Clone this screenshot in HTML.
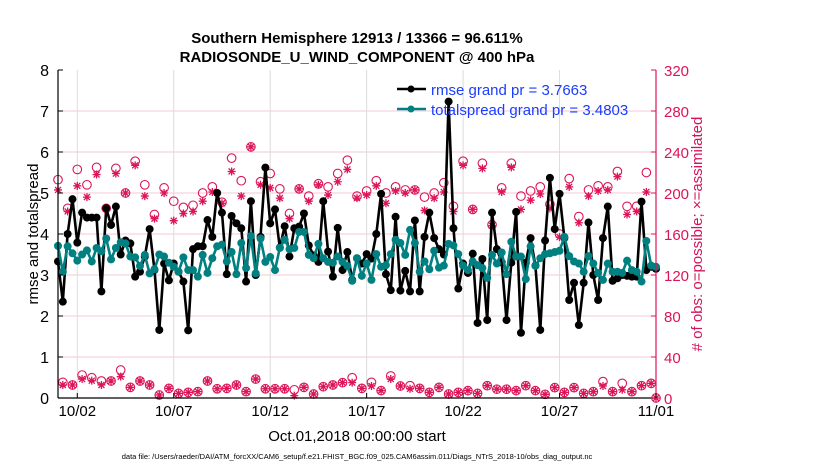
<!DOCTYPE html>
<html><head><meta charset="utf-8">
<style>
html,body{margin:0;padding:0;background:#fff;}
svg{display:block;font-family:"Liberation Sans",Arial,sans-serif;}
</style></head>
<body>
<svg id="chart" width="830" height="470" viewBox="0 0 830 470" xmlns="http://www.w3.org/2000/svg">
<rect width="830" height="470" fill="#fff"/>
<text x="357" y="43" text-anchor="middle" font-size="15" font-weight="bold">Southern Hemisphere 12913 / 13366 = 96.611%</text>
<text x="357" y="62" text-anchor="middle" font-size="15" font-weight="bold">RADIOSONDE_U_WIND_COMPONENT @ 400 hPa</text>
<g id="grid"></g>
<g id="marks"></g>
<g id="axes"></g>
<text transform="translate(38,234) rotate(-90)" text-anchor="middle" font-size="15">rmse and totalspread</text>
<text transform="translate(702,234) rotate(-90)" text-anchor="middle" font-size="15" fill="#d4145a"># of obs: o=possible; ×=assimilated</text>
<text x="357" y="441" text-anchor="middle" font-size="15">Oct.01,2018 00:00:00 start</text>
<text x="357" y="459" text-anchor="middle" font-size="7.5">data file: /Users/raeder/DAI/ATM_forcXX/CAM6_setup/f.e21.FHIST_BGC.f09_025.CAM6assim.011/Diags_NTrS_2018-10/obs_diag_output.nc</text>
<g>
  <line x1="397" y1="89" x2="426" y2="89" stroke="#000" stroke-width="2.5"/>
  <circle cx="411" cy="89" r="3.5" fill="#000"/>
  <text x="431" y="95" font-size="15" fill="#1a3cff">rmse grand pr = 3.7663</text>
  <line x1="397" y1="109" x2="426" y2="109" stroke="#008080" stroke-width="2.5"/>
  <circle cx="411" cy="109" r="3.5" fill="#008080"/>
  <text x="431" y="115" font-size="15" fill="#1a3cff">totalspread grand pr = 3.4803</text>
</g>
</svg>
<script>
const rmse = [3.33,2.35,4.0,4.85,3.79,4.52,4.4,4.4,4.4,2.6,4.63,4.22,4.67,3.5,3.84,3.77,2.96,3.08,3.45,4.12,3.12,1.66,3.28,2.87,3.28,3.08,2.84,1.65,3.63,3.7,3.7,4.34,
3.93,5.0,4.52,3.02,4.44,4.26,4.14,2.84,4.8,3.0,3.93,5.62,4.26,4.6,3.67,4.19,3.45,4.14,4.18,4.5,3.72,3.48,3.32,4.8,3.57,2.96,4.15,3.12,3.56,2.88,3.41,
3.28,3.51,3.4,4.0,4.98,3.02,2.63,4.42,2.62,3.1,2.6,4.33,2.6,3.93,4.52,3.9,3.63,3.5,7.23,4.14,2.67,3.28,3.05,3.52,1.83,3.39,1.9,4.52,3.63,3.31,1.9,
3.3,4.54,1.59,3.3,3.9,3.23,1.66,3.84,5.37,4.12,4.98,3.9,2.39,2.81,1.78,2.81,4.28,3.0,2.39,3.9,4.67,2.86,2.92,3.0,2.98,2.96,2.96,4.79,3.12,3.2,3.15];
const spread = [3.71,3.08,3.7,3.53,3.35,3.5,3.6,3.33,3.66,3.58,3.89,3.38,3.66,3.8,3.77,3.45,3.43,3.22,3.49,3.04,3.14,3.5,3.45,3.3,3.2,3.08,3.43,3.12,3.12,2.96,3.49,3.05,
3.41,3.7,3.74,3.33,3.56,3.02,3.78,3.17,3.95,3.04,3.89,3.32,3.44,3.12,3.66,3.86,3.63,3.66,4.05,4.05,3.49,3.41,3.76,3.41,3.32,3.3,3.45,3.32,3.22,2.86,3.41,
2.98,3.28,2.88,3.51,3.2,3.24,3.51,3.86,3.78,3.49,4.1,3.78,3.08,3.33,3.14,3.59,3.18,3.23,3.76,3.72,3.51,3.23,3.12,3.33,3.24,3.17,2.93,3.49,3.28,3.55,3.02,
3.81,3.45,3.45,2.9,3.7,3.22,3.41,3.51,3.53,3.56,3.59,3.93,3.46,3.33,3.28,3.08,3.46,3.28,3.05,2.88,3.28,3.08,3.08,3.05,3.35,3.12,3.08,2.84,3.83,3.23,3.2];
const possible = [213,15.3,185,12.7,223,22.4,208,19.8,225,16.6,185,16.6,224,27.3,200,10.4,231,16.6,208,12.7,179,2.9,205,9.4,192,4.5,186,5.5,188,6.2,200,16.6,
206,9,191,9.4,234,12.7,212,6.2,245,18.5,211,9,219,9,204,9,180,8,204,10.4,197,3.9,209,11,206,12.7,219,15,232,19.8,197,9.4,
202,15.3,212,7.2,200,21.5,206,11.7,203,12,203,9.4,196,5.5,200,10.4,210,3.9,187,5.5,231,7.2,184,4.5,229,12,169,8.6,205,8.6,229,7.2,
197,12,202,7.2,206,3.6,189,10.1,160,5.5,214,10.1,177,4.5,203,6.2,207,16,206,6.2,221,14.3,187,6.2,187,12,220,14.3,0];
const assimilated = [203,12.7,182,12.7,207,18.5,196,16.9,218,12.7,185,16.6,219,20.8,200,10.4,227,16.6,197,12.7,175,2.9,200,9.4,173,4.5,180,5.5,182,6.2,192,16.6,
201,9,190,9.4,221,12.7,197,6.2,245,18.5,208,9,205,9,195,9,175,2.3,204,10.4,192,3.9,208,11,198,12.7,211,15,223,15,195,9.4,
198,11.7,207,7.2,190,18.5,202,11.7,200,9,203,9.4,183,5.5,195,10.4,201,3.9,182,5.5,227,7.2,184,4.5,224,12,168,8.6,201,8.6,225,7.2,
184,12,193,7.2,199,3.6,185,10.1,157,5.5,206,10.1,171,4.5,197,6.2,202,11.7,203,6.2,216,8,179,6.2,182,12,201,14.3,0];
const yTicks = [0,1,2,3,4,5,6,7,8];
const y2Ticks = [0,40,80,120,160,200,240,280,320];
const xTickDays = [1,6,11,16,21,26,31];
const xTickLabels = ["10/02","10/07","10/12","10/17","10/22","10/27","11/01"];

const L=58,R=656,T=70,B=398;
const NS="http://www.w3.org/2000/svg";
const xScale = i => L + (R-L)*(i/4)/31;
const xDay = d => L + (R-L)*d/31;
const yScale = v => B - (B-T)*v/8;
const y2Scale = v => B - (B-T)*v/320;
function mk(tag, attrs, parent){const e=document.createElementNS(NS,tag);for(const k in attrs)e.setAttribute(k,attrs[k]);parent.appendChild(e);return e;}
const grid=document.getElementById('grid'), marks=document.getElementById('marks'), axes=document.getElementById('axes');

yTicks.forEach(v=>{ if(v>0&&v<8){const g=mk('line',{x1:L,x2:R,y1:yScale(v),y2:yScale(v),stroke:'#f6c8d8','stroke-width':1},grid);

}});
xTickDays.forEach(d=>{ if(d<31){const g=mk('line',{x1:xDay(d),x2:xDay(d),y1:T,y2:B,stroke:'#dcdcdc','stroke-width':1},grid);

}});

possible.forEach((v,i)=>{const c=mk('circle',{cx:xScale(i),cy:y2Scale(v),r:4.3,fill:'none',stroke:'#dc1458','stroke-width':1.1},marks);

});
assimilated.forEach((v,i)=>{const x=xScale(i),y=y2Scale(v),s=4;
const p=mk('path',{d:`M${x-s},${y}H${x+s}M${x},${y-s}V${y+s}M${x-3},${y-3}L${x+3},${y+3}M${x-3},${y+3}L${x+3},${y-3}`,stroke:'#dc1458','stroke-width':1.3,fill:'none'},marks);

});

function series(vals,color,name){
  const d=vals.map((v,i)=>(i?'L':'M')+xScale(i).toFixed(1)+','+yScale(v).toFixed(1)).join('');
  const p=mk('path',{d:d,stroke:color,'stroke-width':2.6,fill:'none','stroke-linejoin':'round'},marks);
  
  
  vals.forEach((v,i)=>{const c=mk('circle',{cx:xScale(i),cy:yScale(v),r:4,fill:color},marks);
  
  });
}
series(rmse,'#000','rmse');
series(spread,'#008080','totalspread');

let a=mk('line',{x1:L,x2:L,y1:T,y2:B,stroke:'#000','stroke-width':1.2},axes);


a=mk('line',{x1:L,x2:R,y1:B,y2:B,stroke:'#000','stroke-width':1.2},axes);


a=mk('line',{x1:R,x2:R,y1:T,y2:B,stroke:'#dc1458','stroke-width':1.2},axes);


yTicks.forEach(v=>{const y=yScale(v);
mk('line',{x1:L,x2:L+5,y1:y,y2:y,stroke:'#000'},axes);
const t=mk('text',{x:L-9,y:y+6,'text-anchor':'end','font-size':16},axes);t.textContent=v;

});
y2Ticks.forEach(v=>{const y=y2Scale(v);
mk('line',{x1:R-5,x2:R,y1:y,y2:y,stroke:'#dc1458'},axes);
const t=mk('text',{x:R+8,y:y+6,'font-size':15,fill:'#dc1458'},axes);t.textContent=v;

});
xTickDays.forEach((d,k)=>{const x=xDay(d);
mk('line',{x1:x,x2:x,y1:B-5,y2:B,stroke:'#000'},axes);
const t=mk('text',{x:x,y:B+18,'text-anchor':'middle','font-size':15},axes);t.textContent=xTickLabels[k];

});
</script>
</body></html>
